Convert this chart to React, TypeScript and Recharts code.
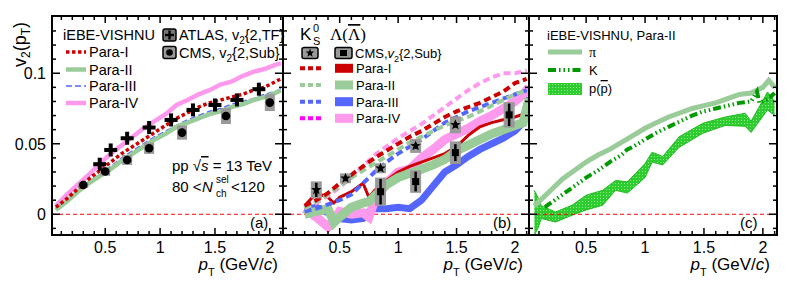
import React from "react";
import {
  ComposedChart,
  Line,
  Scatter,
  Area,
  XAxis,
  YAxis,
  ErrorBar,
  ReferenceLine,
  ReferenceArea,
  Customized,
} from "recharts";

const SANS = "'Liberation Sans', Arial, Helvetica, sans-serif";
const SERIF = "'Liberation Serif', 'Times New Roman', serif";

// axes
const X_DOMAIN: [number, number] = [0.015, 2.12];
const Y_DOMAIN: [number, number] = [-0.0147, 0.1406];
const X_TICKS = [0.1, 0.2, 0.3, 0.4, 0.5, 0.6, 0.7, 0.8, 0.9, 1, 1.1, 1.2, 1.3, 1.4, 1.5, 1.6, 1.7, 1.8, 1.9, 2, 2.1];
const X_MAJOR = [0.5, 1, 1.5, 2];
const Y_TICKS = [-0.01, 0, 0.01, 0.02, 0.03, 0.04, 0.05, 0.06, 0.07, 0.08, 0.09, 0.1, 0.11, 0.12, 0.13];
const Y_MAJOR = [0, 0.05, 0.1];

// panel (a): charged hadrons
const A_PT = [0.05, 0.15, 0.25, 0.35, 0.45, 0.55, 0.65, 0.75, 0.85, 0.95, 1.05, 1.15, 1.25, 1.35, 1.45, 1.55, 1.65, 1.75, 1.85, 1.95, 2.05, 2.1];
const A_PARA_I = [0.005, 0.011, 0.018, 0.025, 0.031, 0.037, 0.043, 0.048, 0.053, 0.058, 0.063, 0.068, 0.072, 0.076, 0.079, 0.081, 0.083, 0.085, 0.088, 0.09, 0.094, 0.096];
const A_PARA_II = [0.003, 0.009, 0.016, 0.022, 0.027, 0.032, 0.038, 0.043, 0.048, 0.053, 0.057, 0.062, 0.065, 0.068, 0.071, 0.073, 0.076, 0.078, 0.081, 0.083, 0.086, 0.088];
const A_PARA_III = [0.004, 0.01, 0.017, 0.023, 0.028, 0.034, 0.04, 0.045, 0.05, 0.055, 0.059, 0.063, 0.067, 0.07, 0.073, 0.075, 0.078, 0.08, 0.082, 0.085, 0.087, 0.089];
const A_PARA_IV = [0.006, 0.014, 0.021, 0.028, 0.036, 0.043, 0.049, 0.055, 0.061, 0.066, 0.071, 0.0775, 0.081, 0.085, 0.088, 0.092, 0.094, 0.098, 0.101, 0.103, 0.106, 0.107];
const CMS_A_PT = [0.3, 0.5, 0.7, 0.9, 1.2, 1.6, 2.0];
const CMS_A_V2 = [0.0208, 0.0303, 0.0385, 0.0468, 0.0579, 0.0697, 0.0792];
const CMS_A_SYS = [0.002, 0.003, 0.0035, 0.004, 0.005, 0.0057, 0.006];
const ATLAS_PT = [0.45, 0.55, 0.7, 0.9, 1.1, 1.3, 1.5, 1.7, 1.9];
const ATLAS_V2 = [0.0355, 0.0456, 0.0539, 0.0615, 0.0669, 0.074, 0.0775, 0.0811, 0.0887];

// panel (b): K0S dashed, Lambda bands
const K0_PT = [0.2, 0.3, 0.4, 0.5, 0.6, 0.7, 0.8, 0.9, 1.0, 1.1, 1.2, 1.3, 1.4, 1.5, 1.6, 1.7, 1.8, 1.9, 2.0, 2.1];
const K0_PARA_I = [0.006, 0.01, 0.015, 0.022, 0.028, 0.034, 0.04, 0.045, 0.05, 0.055, 0.059, 0.064, 0.069, 0.073, 0.076, 0.079, 0.083, 0.087, 0.093, 0.096];
const K0_PARA_II = [0.004, 0.009, 0.014, 0.02, 0.026, 0.031, 0.036, 0.041, 0.046, 0.051, 0.055, 0.059, 0.063, 0.066, 0.069, 0.073, 0.077, 0.081, 0.085, 0.088];
const K0_PARA_III = [0.002, 0.004, 0.007, 0.01, 0.014, 0.022, 0.03, 0.037, 0.043, 0.048, 0.053, 0.059, 0.065, 0.069, 0.073, 0.076, 0.079, 0.082, 0.085, 0.088];
const K0_PARA_IV = [0.004, 0.008, 0.013, 0.019, 0.026, 0.034, 0.042, 0.048, 0.054, 0.059, 0.064, 0.07, 0.076, 0.082, 0.088, 0.093, 0.097, 0.1, 0.1, 0.102];
const LAM_PT = [0.2, 0.3, 0.4, 0.45, 0.5, 0.6, 0.7, 0.75, 0.8, 0.9, 1.0, 1.1, 1.2, 1.3, 1.4, 1.5, 1.6, 1.7, 1.8, 1.9, 2.0, 2.07, 2.12];
const LAM_PARA_I = [0.006, 0.015, 0.012, 0.008, 0.012, 0.016, 0.022, 0.012, 0.017, 0.024, 0.03, 0.034, 0.037, 0.04, 0.043, 0.048, 0.056, 0.062, 0.065, 0.067, 0.069, 0.071, 0.078];
const LAM_PARA_II = [0.0, 0.002, 0.004, -0.006, -0.002, 0.005, 0.008, 0.009, 0.013, 0.021, 0.026, 0.029, 0.032, 0.035, 0.039, 0.045, 0.049, 0.053, 0.057, 0.06, 0.063, 0.065, 0.082];
const LAM_PARA_III = [0.003, 0.005, 0.001, -0.001, -0.003, -0.004, -0.003, 0.002, 0.004, 0.004, 0.005, 0.004, 0.01, 0.02, 0.03, 0.035, 0.041, 0.046, 0.05, 0.054, 0.059, 0.065, 0.083];
const LAM_PARA_IV = [0.004, -0.002, -0.009, -0.004, 0.002, 0.0, 0.001, -0.002, 0.01, 0.022, 0.03, 0.032, 0.04, 0.046, 0.053, 0.057, 0.061, 0.066, 0.07, 0.075, 0.08, 0.085, 0.09];
const CMS_K0_PT = [0.3, 0.55, 0.85, 1.15, 1.49];
const CMS_K0_V2 = [0.0173, 0.0255, 0.0326, 0.0485, 0.0634];
const CMS_K0_SYS = [0.006, 0.0035, 0.0035, 0.005, 0.006];
const CMS_K0_STAT = [0.005, 0.002, 0.002, 0.002, 0.002];
const CMS_LAM_PT = [0.85, 1.15, 1.49, 1.95];
const CMS_LAM_V2 = [0.016, 0.0232, 0.0437, 0.0705];
const CMS_LAM_SYS = [0.01, 0.008, 0.008, 0.009];
const CMS_LAM_STAT = [0.009, 0.007, 0.006, 0.008];

// panel (c): identified hadrons, Para-II
const PI_PT = [0.06, 0.1, 0.2, 0.3, 0.4, 0.5, 0.6, 0.7, 0.8, 0.9, 1.0, 1.1, 1.2, 1.3, 1.4, 1.5, 1.6, 1.7, 1.8, 1.9, 2.0, 2.05, 2.1];
const PI_V2 = [0.006, 0.009, 0.017, 0.025, 0.031, 0.037, 0.042, 0.046, 0.051, 0.056, 0.061, 0.065, 0.069, 0.072, 0.075, 0.077, 0.079, 0.082, 0.085, 0.086, 0.09, 0.095, 0.09];
const K_PT = [0.15, 0.2, 0.3, 0.4, 0.5, 0.6, 0.7, 0.8, 0.85, 0.9, 1.0, 1.1, 1.2, 1.3, 1.4, 1.5, 1.6, 1.7, 1.8, 1.9, 1.95, 1.97, 2.05, 2.1];
const K_V2 = [0.005, 0.008, 0.014, 0.02, 0.026, 0.031, 0.037, 0.042, 0.046, 0.048, 0.053, 0.058, 0.062, 0.066, 0.07, 0.073, 0.075, 0.077, 0.079, 0.08, 0.087, 0.079, 0.082, 0.086];
const P_PT = [0.06, 0.09, 0.12, 0.24, 0.38, 0.5, 0.64, 0.75, 0.85, 1.0, 1.06, 1.15, 1.29, 1.49, 1.68, 1.85, 1.9, 2.04, 2.1];
const P_LOW = [-0.015, -0.01, -0.003, -0.0055, -0.0007, 0.003, 0.0064, 0.017, 0.015, 0.026, 0.037, 0.035, 0.0475, 0.0574, 0.063, 0.0624, 0.058, 0.074, 0.07];
const P_HIGH = [0.017, 0.012, 0.006, 0.0016, 0.0064, 0.0135, 0.017, 0.024, 0.023, 0.036, 0.044, 0.041, 0.055, 0.0645, 0.069, 0.0716, 0.066, 0.0867, 0.08];

const toRows = (pt: number[], v2: number[]) => pt.map((p, i) => ({ pt: p, v2: v2[i] }));
const toPoints = (pt: number[], v2: number[], sys: number[], stat?: number[]) =>
  pt.map((p, i) => ({ pt: p, v2: v2[i], sys: sys[i], stat: stat ? stat[i] : 0 }));

const RED = "#cc0000";
const GREEN = "#99cc99";
const BLUE = "#5566ff";
const PINK = "#ff99ee";
const Y_PX_PER_UNIT = 1410;

const isMajor = (list: number[], v: number) => list.some((m) => Math.abs(m - v) < 1e-6);

type TickProps = { x?: number; y?: number; payload?: { value: number } };

function BottomLabel({ x = 0, y = 0, payload }: TickProps) {
  const v = payload?.value ?? 0;
  if (!isMajor(X_MAJOR, v)) return <g />;
  return (
    <text x={x} y={y + 18} textAnchor="middle" fontSize={16} fontFamily={SANS} fill="#000">
      {String(v)}
    </text>
  );
}

function LeftLabel({ x = 0, y = 0, payload }: TickProps) {
  const v = payload?.value ?? 0;
  if (!isMajor(Y_MAJOR, v)) return <g />;
  return (
    <text x={x - 6} y={y + 6} textAnchor="end" fontSize={16} fontFamily={SANS} fill="#000">
      {String(v)}
    </text>
  );
}

function starPoints(cx: number, cy: number, outer: number, inner: number): string {
  const pts: string[] = [];
  for (let i = 0; i < 10; i++) {
    const r = i % 2 === 0 ? outer : inner;
    const a = -Math.PI / 2 + (i * Math.PI) / 5;
    pts.push(`${cx + r * Math.cos(a)},${cy + r * Math.sin(a)}`);
  }
  return pts.join(" ");
}

const CmsCircle = (p: any) => <circle cx={p.cx} cy={p.cy} r={4.3} fill="#000" />;
const AtlasCross = (p: any) => (
  <g fill="#000">
    <rect x={p.cx - 6.5} y={p.cy - 2} width={13} height={4} />
    <rect x={p.cx - 2} y={p.cy - 6.5} width={4} height={13} />
  </g>
);
const K0Star = (p: any) => <polygon points={starPoints(p.cx, p.cy, 5.5, 2.3)} fill="#000" />;
const LamSquare = (p: any) => <rect x={p.cx - 3.5} y={p.cy - 3.5} width={7} height={7} fill="#000" />;

function XTitle({ right }: { right: number }) {
  return (
    <text x={right} y={270} textAnchor="end" fontSize={17} fontFamily={SANS} fill="#000" style={{ whiteSpace: "pre" }}>
      <tspan fontStyle="italic">p</tspan>
      <tspan dy={6} fontSize={11}>T</tspan>
      <tspan dy={-6}> (GeV/</tspan>
      <tspan fontStyle="italic">c</tspan>
      <tspan>)</tspan>
    </text>
  );
}

function OverlayA({ shift }: { shift: number }) {
  return (
    <g transform={`translate(${-shift} 0)`} fontFamily={SANS} fill="#000" style={{ whiteSpace: "pre" }}>
      <text transform="rotate(-90)" x={-22} y={26} textAnchor="end" fontSize={18}>
        v<tspan dy={4} fontSize={12}>2</tspan>
        <tspan dy={-4}>(p</tspan>
        <tspan dy={4} fontSize={12}>T</tspan>
        <tspan dy={-4}>)</tspan>
      </text>
      <text x={63} y={40} fontSize={14.5}>iEBE-VISHNU</text>
      <line x1={66} x2={86} y1={52} y2={52} stroke={RED} strokeWidth={3.5} strokeDasharray="3.5 2.5" />
      <text x={89} y={57} fontSize={14.5}>Para-I</text>
      <line x1={66} x2={86} y1={69.5} y2={69.5} stroke={GREEN} strokeWidth={4.5} />
      <text x={89} y={74.5} fontSize={14.5}>Para-II</text>
      <line x1={66} x2={86} y1={86} y2={86} stroke={BLUE} strokeWidth={1.5} strokeDasharray="6 3" />
      <text x={89} y={91} fontSize={14.5}>Para-III</text>
      <line x1={66} x2={86} y1={103} y2={103} stroke={PINK} strokeWidth={4.5} />
      <text x={89} y={108} fontSize={14.5}>Para-IV</text>

      <rect x={163} y={29} width={13} height={12} rx={2} fill="#777" stroke="#000" strokeWidth={1.5} />
      <rect x={165} y={33.8} width={9} height={2.4} fill="#000" />
      <rect x={168.3} y={30.5} width={2.4} height={9} fill="#000" />
      <text x={179} y={40} fontSize={14.5}>
        ATLAS, v<tspan dy={4} fontSize={10}>2</tspan>
        <tspan dy={-4}>{"{2,TF}"}</tspan>
      </text>
      <rect x={163} y={46.5} width={13} height={12} rx={2} fill="#999" stroke="#000" strokeWidth={1.5} />
      <circle cx={169.5} cy={52.5} r={3.3} fill="#000" />
      <text x={179} y={57.5} fontSize={14.5}>
        CMS, v<tspan dy={4} fontSize={10}>2</tspan>
        <tspan dy={-4}>{"{2,Sub}"}</tspan>
      </text>

      <text x={172} y={171} fontSize={15}>
        pp √<tspan fontStyle="italic" textDecoration="overline">s</tspan> = 13 TeV
      </text>
      <text x={172} y={192} fontSize={15}>80 &lt;</text>
      <text x={202} y={192} fontSize={15} fontStyle="italic">N</text>
      <text x={216} y={183} fontSize={10}>sel</text>
      <text x={216} y={197} fontSize={10}>ch</text>
      <text x={231} y={192} fontSize={15}>&lt;120</text>
      <text x={250} y={228} fontSize={15}>(a)</text>
      <XTitle right={278} />
    </g>
  );
}

function OverlayB({ shift }: { shift: number }) {
  const rows = [
    { y: 68.3, dash: RED, band: RED, label: "Para-I" },
    { y: 85, dash: GREEN, band: GREEN, label: "Para-II" },
    { y: 101.7, dash: BLUE, band: BLUE, label: "Para-III" },
    { y: 118.3, dash: "#ff00ff", band: PINK, label: "Para-IV" },
  ];
  return (
    <g transform={`translate(${-shift} 0)`} fontFamily={SANS} fill="#000" style={{ whiteSpace: "pre" }}>
      <text x={300} y={40} fontSize={17}>K</text>
      <text x={313} y={45} fontSize={11}>S</text>
      <text x={313} y={32} fontSize={11}>0</text>
      <text x={330} y={40} fontSize={17} fontFamily={SERIF}>
        Λ(<tspan textDecoration="overline">Λ</tspan>)
      </text>
      <rect x={302} y={47.5} width={16} height={11} rx={2} fill="#999" stroke="#000" strokeWidth={1.5} />
      <polygon points={starPoints(310, 53, 4.5, 1.9)} fill="#000" />
      <rect x={335} y={47.5} width={17} height={11} rx={2} fill="#999" stroke="#000" strokeWidth={1.5} />
      <rect x={340} y={50} width={7} height={6} fill="#000" />
      <text x={355} y={58} fontSize={13}>
        CMS,<tspan fontStyle="italic">v</tspan>
        <tspan dy={3.5} fontSize={9}>2</tspan>
        <tspan dy={-3.5}>{"{2,Sub}"}</tspan>
      </text>
      {rows.map((r) => (
        <g key={r.label}>
          <line x1={300} x2={321} y1={r.y} y2={r.y} stroke={r.dash} strokeWidth={4} strokeDasharray="5 3" />
          <rect x={335} y={r.y - 4.5} width={18} height={9} fill={r.band} />
          <text x={356} y={r.y + 5} fontSize={13}>{r.label}</text>
        </g>
      ))}
      <text x={493} y={228} fontSize={15}>(b)</text>
      <XTitle right={523} />
    </g>
  );
}

function OverlayC({ shift }: { shift: number }) {
  return (
    <g transform={`translate(${-shift} 0)`} fontFamily={SANS} fill="#000" style={{ whiteSpace: "pre" }}>
      <text x={547} y={40} fontSize={13}>iEBE-VISHNU, Para-II</text>
      <line x1={548} x2={582} y1={52} y2={52} stroke={GREEN} strokeWidth={5} />
      <text x={589} y={57} fontSize={14} fontFamily={SERIF}>π</text>
      <line x1={548} x2={582} y1={70} y2={70} stroke="#009900" strokeWidth={4} strokeDasharray="8 3 1.5 3 1.5 3 1.5 3" />
      <text x={589} y={75} fontSize={13}>K</text>
      <rect x={548} y={83} width={34} height={12} fill="url(#protonFill)" />
      <text x={589} y={93} fontSize={13}>
        p(<tspan textDecoration="overline">p</tspan>)
      </text>
      <text x={740} y={228} fontSize={15}>(c)</text>
      <XTitle right={770} />
    </g>
  );
}

interface PanelProps {
  left: number;
  width: number;
  yAxisWidth: number;
  marginLeft: number;
  showYLabels: boolean;
  xPxPerUnit: number;
  data?: object[];
  children: React.ReactNode;
}

function Panel({ left, width, yAxisWidth, marginLeft, showYLabels, xPxPerUnit, data, children }: PanelProps) {
  const [x0, x1] = X_DOMAIN;
  const [y0, y1] = Y_DOMAIN;
  // tick marks point into the frame on all four sides
  const xTickLen = (v: number) => (isMajor(X_MAJOR, v) ? 7 : 4) / Y_PX_PER_UNIT;
  const yTickLen = (v: number) => (isMajor(Y_MAJOR, v) ? 8 : 4) / xPxPerUnit;
  const tickStyle = { stroke: "#000", strokeWidth: 1.5, ifOverflow: "visible" as const };
  return (
    <div style={{ position: "absolute", left, top: 0 }}>
      <ComposedChart
        width={width}
        height={294}
        data={data}
        margin={{ top: 16, right: 4, bottom: 0, left: marginLeft }}
      >
        <defs>
          <pattern id="protonFill" width={3} height={3} patternUnits="userSpaceOnUse">
            <rect width={3} height={3} fill="#2ecc2e" />
            <rect width={1} height={1} fill="#90e890" />
          </pattern>
        </defs>
        <XAxis dataKey="pt" type="number" domain={X_DOMAIN} ticks={X_TICKS} interval={0} allowDataOverflow
          height={59} tickSize={0} tickMargin={0} tickLine={false} axisLine={false} tick={<BottomLabel />} />
        <YAxis type="number" domain={Y_DOMAIN} ticks={Y_TICKS} interval={0} allowDataOverflow width={yAxisWidth}
          tickSize={0} tickMargin={0} tickLine={false} axisLine={false}
          tick={showYLabels ? <LeftLabel /> : false} />
        <ReferenceLine y={0} stroke="#ff0000" strokeDasharray="4 3" strokeWidth={1} />
        {children}
        {X_TICKS.map((t) => (
          <ReferenceLine key={`xb${t}`} {...tickStyle} segment={[{ x: t, y: y0 }, { x: t, y: y0 + xTickLen(t) }]} />
        ))}
        {X_TICKS.map((t) => (
          <ReferenceLine key={`xt${t}`} {...tickStyle} segment={[{ x: t, y: y1 }, { x: t, y: y1 - xTickLen(t) }]} />
        ))}
        {Y_TICKS.map((t) => (
          <ReferenceLine key={`yl${t}`} {...tickStyle} segment={[{ x: x0, y: t }, { x: x0 + yTickLen(t), y: t }]} />
        ))}
        {Y_TICKS.map((t) => (
          <ReferenceLine key={`yr${t}`} {...tickStyle} segment={[{ x: x1, y: t }, { x: x1 - yTickLen(t), y: t }]} />
        ))}
        <ReferenceArea x1={x0} x2={x1} y1={y0} y2={y1} fill="none" fillOpacity={0} stroke="#000" strokeWidth={2} ifOverflow="visible" />
      </ComposedChart>
    </div>
  );
}

const lineProps = { dot: false, activeDot: false, isAnimationActive: false, type: "linear" as const };

export default function App() {
  const protonRows = P_PT.map((p, i) => ({ pt: p, band: [P_LOW[i], P_HIGH[i]] }));
  return (
    <div style={{ position: "absolute", left: 0, top: 0, width: 789, height: 294, background: "#fff" }}>
      <Panel left={0} width={287} yAxisWidth={52} marginLeft={0} showYLabels xPxPerUnit={109.7}>
        <Line {...lineProps} name="a4" data={toRows(A_PT, A_PARA_IV)} dataKey="v2" stroke={PINK} strokeWidth={4.5} />
        <Line {...lineProps} name="a3" data={toRows(A_PT, A_PARA_III)} dataKey="v2" stroke={BLUE} strokeWidth={1.5} strokeDasharray="6 3" />
        <Line {...lineProps} name="a2" data={toRows(A_PT, A_PARA_II)} dataKey="v2" stroke={GREEN} strokeWidth={4.5} />
        <Line {...lineProps} name="a1" data={toRows(A_PT, A_PARA_I)} dataKey="v2" stroke={RED} strokeWidth={3.5} strokeDasharray="3.5 2.5" />
        <Scatter name="cms" data={toPoints(CMS_A_PT, CMS_A_V2, CMS_A_SYS)} dataKey="v2" shape={CmsCircle} isAnimationActive={false}>
          <ErrorBar dataKey="sys" direction="y" width={0} strokeWidth={10} stroke="#999" />
        </Scatter>
        <Scatter name="atlas" data={toRows(ATLAS_PT, ATLAS_V2)} dataKey="v2" shape={AtlasCross} isAnimationActive={false} />
        <Customized component={<OverlayA shift={0} />} />
      </Panel>

      <Panel left={279} width={254} yAxisWidth={0} marginLeft={4} showYLabels={false} xPxPerUnit={116.9}>
        <Line {...lineProps} name="l3" data={toRows(LAM_PT, LAM_PARA_III)} dataKey="v2" stroke={BLUE} strokeWidth={7} />
        <Line {...lineProps} name="l4" data={toRows(LAM_PT, LAM_PARA_IV)} dataKey="v2" stroke={PINK} strokeWidth={9} />
        <Line {...lineProps} name="l1" data={toRows(LAM_PT, LAM_PARA_I)} dataKey="v2" stroke={RED} strokeWidth={3} />
        <Line {...lineProps} name="l2" data={toRows(LAM_PT, LAM_PARA_II)} dataKey="v2" stroke={GREEN} strokeWidth={9} />
        <Line {...lineProps} name="k4" data={toRows(K0_PT, K0_PARA_IV)} dataKey="v2" stroke={PINK} strokeWidth={4} strokeDasharray="7 4" />
        <Line {...lineProps} name="k3" data={toRows(K0_PT, K0_PARA_III)} dataKey="v2" stroke={BLUE} strokeWidth={4} strokeDasharray="7 4" />
        <Line {...lineProps} name="k2" data={toRows(K0_PT, K0_PARA_II)} dataKey="v2" stroke={GREEN} strokeWidth={4} strokeDasharray="7 4" />
        <Line {...lineProps} name="k1" data={toRows(K0_PT, K0_PARA_I)} dataKey="v2" stroke={RED} strokeWidth={4} strokeDasharray="7 4" />
        <Scatter name="cmsK0" data={toPoints(CMS_K0_PT, CMS_K0_V2, CMS_K0_SYS, CMS_K0_STAT)} dataKey="v2" shape={K0Star} isAnimationActive={false}>
          <ErrorBar dataKey="sys" direction="y" width={0} strokeWidth={11} stroke="#999" />
          <ErrorBar dataKey="stat" direction="y" width={0} strokeWidth={2.5} stroke="#000" />
        </Scatter>
        <Scatter name="cmsLam" data={toPoints(CMS_LAM_PT, CMS_LAM_V2, CMS_LAM_SYS, CMS_LAM_STAT)} dataKey="v2" shape={LamSquare} isAnimationActive={false}>
          <ErrorBar dataKey="sys" direction="y" width={0} strokeWidth={11} stroke="#999" />
          <ErrorBar dataKey="stat" direction="y" width={0} strokeWidth={2.5} stroke="#000" />
        </Scatter>
        <Customized component={<OverlayB shift={279} />} />
      </Panel>

      <Panel left={525} width={256} yAxisWidth={0} marginLeft={4} showYLabels={false} xPxPerUnit={117.8} data={protonRows}>
        <Area dataKey="band" type="linear" fill="url(#protonFill)" fillOpacity={1} stroke="#22bb22" strokeWidth={1} isAnimationActive={false} dot={false} activeDot={false} />
        <Line {...lineProps} name="pi" data={toRows(PI_PT, PI_V2)} dataKey="v2" stroke={GREEN} strokeWidth={5} />
        <Line {...lineProps} name="kaon" data={toRows(K_PT, K_V2)} dataKey="v2" stroke="#009900" strokeWidth={4} strokeDasharray="8 3 1.5 3 1.5 3 1.5 3" />
        <Customized component={<OverlayC shift={525} />} />
      </Panel>
    </div>
  );
}
